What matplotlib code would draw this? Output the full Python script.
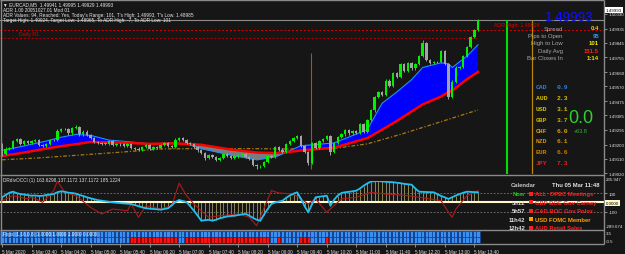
import numpy as np
import matplotlib
matplotlib.use("Agg")
import matplotlib.pyplot as plt

plt.rcParams['font.family'] = ['Liberation Sans', 'DejaVu Sans']

# ─────── Data (prices as pips above 1.49000, M5 bars from 03:00) ───────
BASE = 1.49
first_open_pips = 20.5
close_pips = [
    14.0, 17.5, 18.1, 22.3, 23.5, 20.5, 22.3, 21.1, 22.3, 22.9,
    19.9, 19.3, 20.5, 22.9, 22.7, 28.9, 30.1, 29.8, 27.1, 30.7,
    31.3, 26.5, 28.3, 25.9, 24.1, 21.7, 21.1, 20.5, 20.7, 22.3,
    19.9, 20.5, 20.1, 19.3, 20.5, 18.1, 17.5, 16.9, 18.7, 19.9,
    17.5, 18.7, 18.1, 19.9, 21.1, 19.3, 18.7, 22.9, 24.1, 22.9,
    21.1, 20.5, 18.7, 16.3, 14.6, 11.6, 13.4, 12.3, 10.4, 11.6,
    14.0, 12.8, 11.6, 12.5, 13.4, 14.0, 12.3, 11.0, 7.4, 6.2,
    6.5, 9.2, 12.8, 12.3, 18.7, 16.9, 15.2, 20.5, 22.3, 24.1,
    25.3, 19.3, 15.2, 8.6, 21.1, 18.1, 22.3, 23.5, 25.3, 15.2,
    21.1, 24.7, 26.5, 29.5, 27.1, 28.9, 27.7, 33.1, 28.3, 35.5,
    42.0, 50.4, 53.4, 51.6, 60.6, 57.0, 65.3, 62.9, 71.3, 66.5,
    71.9, 68.3, 71.3, 76.1, 84.5, 73.7, 71.9, 72.4, 72.2, 79.1,
    71.3, 50.4, 60.0, 68.9, 69.3, 76.1, 82.1, 88.1, 92.8, 99.3,
]
wick_default = 0.7
wick_extra = {0: (0.6, 1.2), 15: (1.2, 0.6), 20: (1.2, 0.6), 47: (1.2, 0.6),
              55: (0.6, 1.5), 69: (0.6, 1.5), 83: (0.6, 1.2), 89: (1.0, 1.5),
              101: (0.6, 1.5), 114: (1.8, 0.6), 121: (0.6, 1.2), 129: (0.3, 0.6)}

band_idx = [0, 5, 12, 16, 20, 24, 29, 35, 40, 46, 50, 54, 62, 69, 74, 77, 81,
            90, 99, 103, 107, 111, 114, 119, 121, 122, 126, 129]
fast_pips = [16.3, 18.7, 22.3, 24.7, 26.5, 25.9, 22.9, 21.7, 20.5, 21.1, 20.5,
             17.5, 13.4, 10.4, 12.3, 15.2, 19.3, 21.1, 29.5, 46.2, 53.4, 61.2,
             68.9, 71.9, 71.3, 68.9, 76.1, 83.3]
slow_pips = [12.8, 14.6, 17.5, 19.0, 20.3, 21.7, 21.5, 21.0, 20.5, 20.8, 20.5,
             19.9, 16.9, 15.0, 14.6, 15.2, 16.3, 18.1, 24.1, 29.5, 35.0, 41.0,
             45.5, 50.5, 53.4, 54.2, 61.5, 66.1]
long_idx = [0, 10, 21, 32, 43, 54, 67, 81, 90, 99, 108, 117, 129]
long_pips = [10.4, 11.6, 13.4, 15.2, 17.3, 17.5, 17.5, 17.2, 17.6, 20.5, 26.5, 33.1, 42.0]

bid = 1.49993
adr_high = 1.49924
daily_r1 = 1.49875
green_line_bar, orange_line_bar = 136.8, 143.6
range_line_bar, range_line_top, range_line_bot = 83.7, 1.49779, 1.49044

price_ticks = [1.50030, 1.49935, 1.49845, 1.49755, 1.49660, 1.49570,
               1.49475, 1.49385, 1.49295, 1.49200, 1.49110, 1.49020]

cci_main = [
    56, 80, 105, 116, 100, 91, 85, 78, 73, 75,
    70, 72, 80, 85, 91, 110, 120, 115, 105, 102,
    95, 80, 70, 56, 45, 35, 25, 19, 12, 6,
    2, -2, -6, -10, -12, -16, -28, -40, -52, -62,
    -66, -70, -74, -77, -70, -62, -30, 5, 27, 15,
    5, -40, -88, -140, -195, -190, -185, -195, -185, -170,
    -160, -150, -145, -142, -135, -128, -123, -140, -165, -185,
    -195, -130, -70, -16, 0, 10, 19, 50, 75, 95,
    109, 40, -40, -105, -20, 56, 62, 68, 73, -34,
    30, 75, 102, 110, 115, 120, 127, 150, 180, 205,
    225, 228, 230, 226, 222, 220, 217, 212, 207, 200,
    195, 191, 150, 116, 114, 112, 110, 109, 90, 70,
    55, 38, 56, 75, 90, 105, 116, 114, 112, 109,
]
cci_red_idx = [0, 3, 7, 8, 11, 14, 15, 17, 20, 24, 27, 30, 34, 35, 37, 39, 43, 46,
               48, 50, 52, 56, 59, 64, 67, 69, 73, 75, 79, 83, 85, 88, 92, 96,
               100, 104, 110, 113, 119, 121, 122, 123, 126, 129]
cci_red = [19, 73, 38, 59, 2, 127, 230, 109, 73, -52, -123, -70, -88, -16, -159,
           -34, -70, -34, 209, 73, -16, -159, -142, -123, -159, -249, 127, 102,
           91, -16, 38, -105, 38, 56, 109, 91, 73, 56, 19, -105, -159, -70, 73, 127]
cci_top, cci_bot = 235.947, -289.674

heat_red_spans = [(35, 47), (50, 72), (75, 75), (81, 83), (88, 88)]

time_labels = ["5 Mar 2020", "5 Mar 03:40", "5 Mar 04:20", "5 Mar 05:00", "5 Mar 05:40",
               "5 Mar 06:20", "5 Mar 07:00", "5 Mar 07:40", "5 Mar 08:20", "5 Mar 09:00",
               "5 Mar 09:40", "5 Mar 10:20", "5 Mar 11:00", "5 Mar 11:40", "5 Mar 12:20",
               "5 Mar 13:00", "5 Mar 13:40"]
bars_per_label = 8

info_rows = [("Spread", "0.4", "#f0d000"), ("Pips to Open", "95", "#1ea0ff"),
             ("High to Low", "101", "#f0f000"), ("Daily Avg", "151.5", "#ff2020"),
             ("Bar Closes In", "1:14", "#f0e000")]
currencies = ["CAD", "AUD", "USD", "GBP", "CHF", "NZD", "EUR", "JPY"]
strength = [0.9, 2.3, 3.1, 3.7, 6.0, 6.1, 6.6, 7.3]
cur_colors = ["#2f7fe0", "#d4c000", "#ccc000", "#c8b400", "#e0a000", "#d89000", "#d07800", "#e02020"]

calendar = [("Now", "ALL  OPEC Meetings", "#ff2020", "#20c020"),
            ("5h12", "GBP BOE Gov Carney", "#ff2020", "#e0e0e0"),
            ("5h57", "CAD BOC Gov Poloz", "#ff2020", "#e0e0e0"),
            ("11h42", "USD FOMC Member", "#ffa000", "#e0e0e0"),
            ("12h42", "AUD Retail Sales", "#ff2020", "#e0e0e0")]

# ─────── Figure ───────
W, H = 625, 255
BG = "#161616"
fig = plt.figure(figsize=(W / 100, H / 100), dpi=100, facecolor=BG)


def px_rect(l, t, r, b):
    return [l / W, 1 - b / H, (r - l) / W, (b - t) / H]


ax_main = fig.add_axes(px_rect(0, 3, 604, 175))
ax_cci = fig.add_axes(px_rect(0, 181.5, 604, 230.5))
ax_heat = fig.add_axes(px_rect(0, 232, 604, 244))
xlim = (-0.542, 163.14)
for ax in (ax_main, ax_cci, ax_heat):
    ax.set_facecolor("none")
    for s in ax.spines.values():
        s.set_visible(False)
    ax.set_xlim(*xlim)

n = len(close_pips)
bars = np.arange(n)
closes = BASE + np.array(close_pips) / 1e4
opens = np.concatenate([[BASE + first_open_pips / 1e4], closes[:-1]])
up_w = np.array([wick_extra.get(i, (wick_default, wick_default))[0] for i in bars]) / 1e4
dn_w = np.array([wick_extra.get(i, (wick_default, wick_default))[1] for i in bars]) / 1e4
highs = np.maximum(opens, closes) + up_w
lows = np.minimum(opens, closes) - dn_w

# ─────── Main chart ───────
ax_main.set_ylim(1.490140, 1.501042)
bi = np.array(band_idx)
fast = BASE + np.array(fast_pips) / 1e4
slow = BASE + np.array(slow_pips) / 1e4
ax_main.plot(long_idx, BASE + np.array(long_pips) / 1e4, color="#a87a10",
             lw=0.9, ls=(0, (3, 1.5, 1, 1.5)), zorder=1)
ax_main.fill_between(bi, fast, slow, where=fast >= slow, interpolate=True,
                     color="#0000ff", lw=0, zorder=2)
ax_main.fill_between(bi, fast, slow, where=fast < slow, interpolate=True,
                     color="#7c7c7c", lw=0, zorder=2)
ax_main.plot(bi, fast, color="#1e90ff", lw=0.8, zorder=2.5)
ax_main.plot(bi, slow, color="#ff0000", lw=1.8, zorder=3)

ax_main.axhline(bid, color="#8c8c8c", lw=0.8, zorder=1)
ax_main.axhline(adr_high, color="#e00000", lw=0.7, ls=(0, (2, 2)), zorder=1)
ax_main.hlines(daily_r1, xlim[0], n - 1, color="#c00000", lw=0.7, ls=(0, (2, 2)), zorder=1)
ax_main.vlines(range_line_bar, range_line_bot, range_line_top, color="#a0522d", lw=0.8, zorder=1)
ax_main.vlines(green_line_bar, 1.490140, bid, color="#00e000", lw=1.5, zorder=1)
ax_main.vlines(orange_line_bar, 1.490140, bid, color="#b8860b", lw=0.9, zorder=1)

is_up = closes >= opens
ccol = np.where(is_up, "#00f000", "#a4a4a4")
ax_main.vlines(bars, lows, highs, colors=ccol, lw=0.7, zorder=4)
body_h = np.maximum(np.abs(closes - opens), 0.35e-4)
ax_main.bar(bars, body_h, bottom=np.minimum(opens, closes), width=0.66,
            color=ccol, lw=0, zorder=5)

tick_style = dict(length=2.5, width=0.6, color="#a0a0a0",
                  labelcolor="#e8e8e8", labelsize=3.2, pad=1.2)
ax_main.set_xticks([])
ax_main.yaxis.tick_right()
ax_main.set_yticks(price_ticks)
ax_main.set_yticklabels([f"{p:.5f}" for p in price_ticks])
ax_main.tick_params(axis="y", **tick_style)

# ─────── CCI panel ───────
cci = np.array(cci_main)
ax_cci.set_ylim(cci_bot, cci_top)
ax_cci.vlines(bars, 0, cci, color="#8c8858", lw=0.7, zorder=1)
for lvl in (100, -100):
    ax_cci.axhline(lvl, color="#7a7a7a", lw=0.6, ls=(0, (2, 2)), zorder=1)
ax_cci.axhline(0, color="#fff8c8", lw=1.5, zorder=2)
ax_cci.plot(cci_red_idx, cci_red, color="#b01818", lw=0.8, zorder=3)
ax_cci.plot(bars, cci, color="#20c0f0", lw=1.3, zorder=4)
ax_cci.set_xticks([])
ax_cci.yaxis.tick_right()
ax_cci.set_yticks([100, -100])
ax_cci.set_yticklabels(["100", "-100"])
ax_cci.tick_params(axis="y", **tick_style)

# ─────── Heat strip ───────
ax_heat.set_ylim(0, 2)
red_set = set()
for a, b in heat_red_spans:
    red_set.update(range(a, b + 1))
ax_heat.bar(bars, 1, bottom=1, width=0.85, color="#3a8ff0", edgecolor="#0b3a98", lw=0.4)
ax_heat.bar(bars, 1, bottom=0, width=0.85,
            color=["#ff1010" if i in red_set else "#3a8ff0" for i in bars],
            edgecolor=["#900000" if i in red_set else "#0b3a98" for i in bars], lw=0.4)
ax_heat.set_yticks([])
tick_bars = np.arange(len(time_labels)) * bars_per_label
ax_heat.set_xticks(tick_bars)
ax_heat.set_xticklabels(time_labels, ha="left")
ax_heat.tick_params(axis="x", length=3, width=0.6, color="#a0a0a0",
                    labelcolor="#e0e0e0", labelsize=3.3, pad=1.5)

# ─────── Overlay (pixel coordinates) ───────
ov = fig.add_axes([0, 0, 1, 1])
ov.set_xlim(0, W)
ov.set_ylim(H, 0)
ov.axis("off")
ov.patch.set_alpha(0)

frame = "#8a8a8a"
ov.hlines([1, 176, 231, 245], 0, 604, color=frame, lw=1.0)
ov.vlines([1, 604], 1, 245, color=frame, lw=1.0)

small = dict(color="#e8e8e8", fontsize=3.4, va="center")
ov.text(3, 5, "\u25bc EURCAD,M5  1.49941 1.49995 1.49929 1.49993", **small)
ov.text(3, 10.5, "ADR 1.00 20051027.01 Mod 01", **small)
ov.text(3, 15.5, "ADR Values: 94, Reached: Yes, Today's Range: 101, T's High: 1.49993, T's Low: 1.48985", **small)
ov.text(3, 20.5, "Target High: 1.49924, Target Low: 1.48965, To ADR High: -7, To ADR Low: 101", **small)
ov.text(19, 34.5, "Daily R1", color="#d00000", fontsize=3.8, va="center")
ov.text(494, 25, f"ADR High: {adr_high:.5f}", color="#e00000", fontsize=3.8, va="center")

ov.text(545, 18, f"{bid:.5f}", color="#1010ff", fontsize=9.6, va="center")
for k, (lab, val, col) in enumerate(info_rows):
    y = 29 + 7.4 * k
    ov.text(563, y, lab, color="#a8a8a8", fontsize=4.3, ha="right", va="center")
    ov.text(599, y, val, color=col, fontsize=4.3, ha="right", va="center", fontweight="bold")

for k, (cur, val, col) in enumerate(zip(currencies, strength, cur_colors)):
    y = 88 + 10.8 * k
    ov.text(536, y, cur, color=col, fontsize=4.6, va="center",
            family="Liberation Mono", fontweight="bold")
    ov.text(557, y, f"{val:.1f}", color=col, fontsize=4.6, va="center",
            family="Liberation Mono", fontweight="bold")
ov.text(568, 119, "0.0", color="#30d030", fontsize=13, va="center")
ov.text(574, 131.5, "+63.8", color="#20c020", fontsize=4, va="center")

# right axis extras
rlab = dict(color="#e8e8e8", fontsize=3.2, va="center")
ov.text(606, 11, f"{bid:.5f}", color="black", fontsize=3.2, va="center",
        bbox=dict(boxstyle="square,pad=0.15", fc="white", ec="none"))
ov.text(606, 180.5, f"{cci_top:.3f}", **rlab)
ov.text(606, 204, "0.0000", color="black", fontsize=3.2, va="center",
        bbox=dict(boxstyle="square,pad=0.15", fc="#fff8c8", ec="none"))
ov.text(606, 227, f"{cci_bot:.3f}", **rlab)
ov.text(606, 234.5, "3.5", **rlab)
ov.text(606, 242.5, "-0.5", **rlab)

ov.text(3, 180.5, "DRdivOCCI (1) 163.6298 137.1172 137.1172 185.1224", **small)
ov.text(3, 234.8, "Fxpx (1,16,0,8) 1.0000 1.0000 1.0000 0.0000", **small)

# calendar
ov.text(511, 186, "Calendar", color="#c8c8c8", fontsize=4.2, va="center", fontweight="bold")
ov.text(552, 186, "Thu 05 Mar 11:48", color="#e0e0e0", fontsize=4.2, va="center", fontweight="bold")
for k, (when, what, col, tcol) in enumerate(calendar):
    y = 195 + 8.4 * k
    ov.text(525, y, when, color=tcol, fontsize=4.2, ha="right", va="center", fontweight="bold")
    ov.plot(531, y, marker="s", ms=2.2, color=col, mew=0)
    ov.text(535, y, what, color=col, fontsize=4.2, va="center", fontweight="bold")

fig.savefig("out.png", dpi=100, facecolor=BG)
